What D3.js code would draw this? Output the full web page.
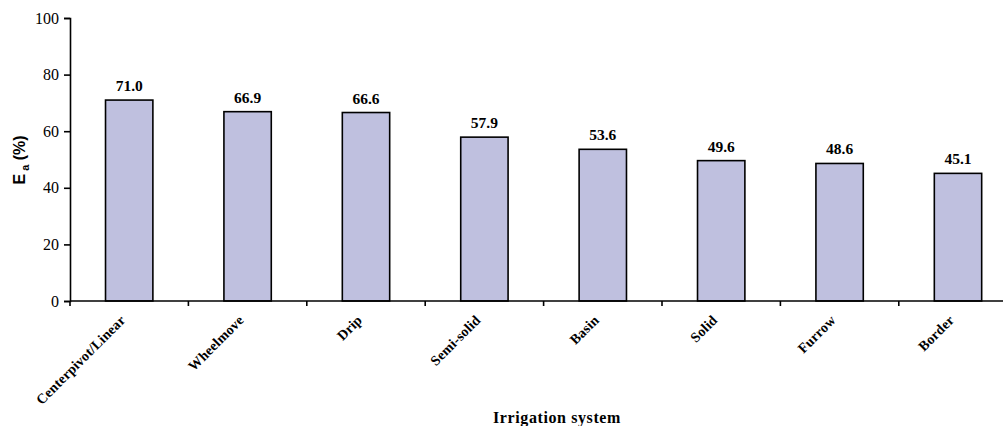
<!DOCTYPE html>
<html>
<head>
<meta charset="utf-8">
<script src="https://cdn.jsdelivr.net/npm/d3@7/dist/d3.min.js"></script>
<style>
  html, body { margin: 0; padding: 0; background: #fff; }
  svg { display: block; }
</style>
</head>
<body>
<svg id="chart" width="1003" height="426"></svg>
<script>
// Application efficiency by irrigation system
const systems = ["Centerpivot/Linear", "Wheelmove", "Drip", "Semi-solid", "Basin", "Solid", "Furrow", "Border"];
const efficiency = [71.0, 66.9, 66.6, 57.9, 53.6, 49.6, 48.6, 45.1];
const yTicks = [0, 20, 40, 60, 80, 100];

(function () {
  const svg = d3.select("#chart");
  const plotLeft = 70, plotTop = 18, plotBottom = 301;
  const bandStep = 118.4;
  const plotRight = plotLeft + bandStep * systems.length;

  const x = d3.scaleBand().domain(systems).range([plotLeft, plotRight]).paddingInner(0).paddingOuter(0);
  const y = d3.scaleLinear().domain([0, 100]).range([plotBottom, plotTop]);
  const barW = x.bandwidth() * 0.4;

  const serif = "'Liberation Serif', 'Times New Roman', serif";

  // bars
  svg.append("g").selectAll("rect").data(systems).join("rect")
    .attr("x", d => x(d) + (x.bandwidth() - barW) / 2)
    .attr("y", (d, i) => y(efficiency[i]))
    .attr("width", barW)
    .attr("height", (d, i) => y(0) - y(efficiency[i]))
    .attr("fill", "#bfc0df")
    .attr("stroke", "#000")
    .attr("stroke-width", 1.6);

  // value labels
  svg.append("g").selectAll("text").data(systems).join("text")
    .attr("x", d => x(d) + x.bandwidth() / 2)
    .attr("y", (d, i) => y(efficiency[i]) - 9)
    .attr("text-anchor", "middle")
    .attr("font-family", serif)
    .attr("font-weight", "bold")
    .attr("font-size", 15.5)
    .text((d, i) => efficiency[i].toFixed(1));

  // y axis
  const yAxis = svg.append("g").attr("transform", `translate(${plotLeft},0)`)
    .call(d3.axisLeft(y).tickValues(yTicks).tickSize(6).tickPadding(5).tickFormat(d3.format("d")));
  yAxis.select(".domain").attr("stroke-width", 1.6);
  yAxis.selectAll(".tick line").attr("stroke-width", 1.6);
  yAxis.selectAll("text").attr("font-family", serif).attr("font-size", 16).attr("fill", "#000");

  // x axis: ticks at category boundaries
  const xAxis = svg.append("g").attr("transform", `translate(0,${plotBottom})`);
  xAxis.append("line").attr("x1", plotLeft).attr("x2", plotRight).attr("stroke", "#000").attr("stroke-width", 1.6);
  xAxis.selectAll("line.tk").data(systems).join("line").attr("class", "tk")
    .attr("x1", d => x(d)).attr("x2", d => x(d))
    .attr("y1", 0).attr("y2", 5)
    .attr("stroke", "#000").attr("stroke-width", 1.6);

  // category labels
  svg.append("g").selectAll("text").data(systems).join("text")
    .attr("transform", d => `translate(${x(d) + x.bandwidth() / 2 - 3},${plotBottom + 20}) rotate(-45)`)
    .attr("text-anchor", "end")
    .attr("font-family", serif)
    .attr("font-weight", "bold")
    .attr("font-size", 14)
    .attr("letter-spacing", 0.2)
    .text(d => d);

  // axis titles
  svg.append("text")
    .attr("x", 557).attr("y", 423)
    .attr("text-anchor", "middle")
    .attr("font-family", serif)
    .attr("font-weight", "bold")
    .attr("font-size", 16)
    .attr("letter-spacing", 0.6)
    .text("Irrigation system");

  const yt = svg.append("text")
    .attr("transform", "translate(25,160) rotate(-90)")
    .attr("text-anchor", "middle")
    .attr("font-family", "'Liberation Sans', Arial, sans-serif")
    .attr("font-weight", "bold")
    .attr("font-size", 16);
  yt.append("tspan").text("E");
  yt.append("tspan").attr("font-size", 11).attr("dy", 4).text(" a");
  yt.append("tspan").attr("dy", -4).text(" (%)");
})();
</script>
</body>
</html>
